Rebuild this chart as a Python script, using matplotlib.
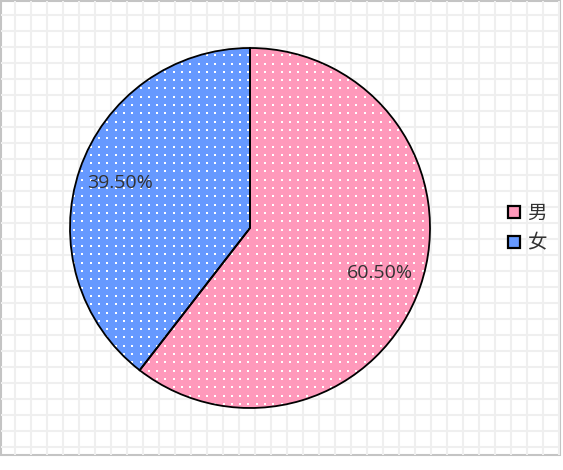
import numpy as np
import matplotlib
matplotlib.use("Agg")
import matplotlib.pyplot as plt
from matplotlib.patches import Rectangle
from matplotlib.lines import Line2D
from matplotlib.legend_handler import HandlerTuple

plt.rcParams['font.family'] = ['Open Sans', 'Noto Sans CJK SC', 'DejaVu Sans']

# datos
labels = ["男", "女"]
values = [60.5, 39.5]
colors = ["#FF99BB", "#6699FF"]

W, H = 563, 470
fig = plt.figure(figsize=(W / 100, H / 100), dpi=100)

# fondo cuadriculado con marco gris
bg = fig.add_axes([0, 0, 1, 1])
bg.set_xlim(0, W); bg.set_ylim(H, 0); bg.set_axis_off()
frame_r, frame_b = 560, 455
bg.vlines(np.arange(15, frame_r, 16), 1, frame_b, color="#efefef", linewidth=1.45)
bg.hlines(np.arange(15, frame_b, 16), 1, frame_r, color="#efefef", linewidth=1.45)
bg.add_patch(Rectangle((1, 1), frame_r - 1, frame_b - 1, fill=False,
                       edgecolor="#c4c4c4", linewidth=1.5))

# pastel
cx, cy, r = 250, 228, 180
ax = fig.add_axes([(cx - r) / W, (H - cy - r) / H, 2 * r / W, 2 * r / H])
ax.set_axis_off()

wedges, _, autotexts = ax.pie(
    values, colors=colors, startangle=90, counterclock=False,
    autopct=lambda p: f"{p:.2f}%", pctdistance=0.765,
    wedgeprops=dict(linewidth=0),
    textprops=dict(color="#333333", fontsize=14),
)
for t in autotexts:
    t.set_zorder(5)

# textura de puntos blancos, recortada a cada sector
step = 8.3 / r
g = np.arange(-1 + step / 2, 1, step)
gx, gy = np.meshgrid(g, g)
for w in wedges:
    sc = ax.scatter(gx.ravel(), gy.ravel(), s=2.6, marker="s", c="white",
                    linewidths=0, zorder=1.5)
    sc.set_clip_path(w)

outline, _ = ax.pie(values, startangle=90, counterclock=False,
                    wedgeprops=dict(fill=False, edgecolor="black", linewidth=1.3))
for w in outline:
    w.set_zorder(3)
ax.set_xlim(-1, 1); ax.set_ylim(-1, 1)

# leyenda
handles = [
    (Line2D([], [], marker="s", linestyle="none", markersize=9,
            markerfacecolor=c, markeredgecolor="black", markeredgewidth=1.6),
     Line2D([], [], marker="s", linestyle="none", markersize=1.6,
            markerfacecolor="white", markeredgewidth=0))
    for c in colors
]
leg = fig.legend(handles, labels, loc="center left", bbox_to_anchor=(496 / W, 1 - 228 / H),
                 handler_map={tuple: HandlerTuple(ndivide=None)},
                 frameon=False, handlelength=0.6, handletextpad=0.1, labelspacing=0.45,
                 prop=dict(family=['Noto Sans CJK SC', 'DejaVu Sans'], size=14))
for t in leg.get_texts():
    t.set_color("#333333")

fig.savefig("out.png", dpi=100, facecolor="white")
